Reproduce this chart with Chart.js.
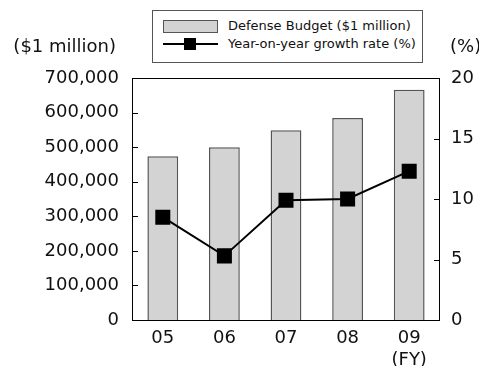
<!DOCTYPE html>
<html>
<head>
<meta charset="utf-8">
<script src="https://cdn.jsdelivr.net/npm/chart.js@4/dist/chart.umd.min.js"></script>
<style>
  body { margin: 0; background: #fff; }
  #wrap { position: relative; width: 479px; height: 366px; }
  #legend {
    position: absolute; left: 152px; top: 10px; width: 271px; height: 53px;
    border: 1px solid #555; box-sizing: border-box; background: #fff;
    font-family: "DejaVu Sans", sans-serif; font-size: 13px; color: #111;
  }
  .item { position: absolute; left: 10px; height: 14px; line-height: 14px; white-space: nowrap; }
  .item span.txt { position: absolute; left: 65px; top: 0; }
  .swBar { position: absolute; left: 0; top: 1px; width: 53px; height: 11px; background: #d3d3d3; border: 1px solid #555; }
  .swLine { position: absolute; left: 0; top: 6px; width: 55px; height: 2px; background: #000; }
  .swLine i { position: absolute; left: 21px; top: -5px; width: 12px; height: 12px; background: #000; }
</style>
</head>
<body>
<div id="wrap">
  <canvas id="myChart" width="479" height="366"></canvas>
  <div id="legend">
    <div class="item" style="top:8px"><div class="swBar"></div><span class="txt">Defense Budget ($1 million)</span></div>
    <div class="item" style="top:26px"><div class="swLine"><i></i></div><span class="txt">Year-on-year growth rate (%)</span></div>
  </div>
</div>
<script>
const YEARS = ['05', '06', '07', '08', ['09', '(FY)']];
const BUDGET = [474000, 500000, 549000, 584000, 666000];
const GROWTH = [8.5, 5.3, 9.9, 10.0, 12.3];
const LEFT_TITLE = '($1 million)';
const RIGHT_TITLE = '(%)';

const FONT = "'DejaVu Sans', sans-serif";

// box round the plot, inward tick marks, axis titles
const frame = {
  id: 'frame',
  afterDraw(chart) {
    const c = chart.ctx, a = chart.chartArea;
    const yl = chart.scales.y, yr = chart.scales.y2;
    c.save();
    c.strokeStyle = '#000';
    c.lineWidth = 1;
    c.strokeRect(a.left + 0.5, a.top + 0.5, a.right - a.left - 1, a.bottom - a.top);
    c.beginPath();
    yl.ticks.forEach(t => {
      const py = Math.round(yl.getPixelForValue(t.value)) + 0.5;
      c.moveTo(a.left, py); c.lineTo(a.left + 6, py);
    });
    yr.ticks.forEach(t => {
      const py = Math.round(yr.getPixelForValue(t.value)) + 0.5;
      c.moveTo(a.right - 6, py); c.lineTo(a.right, py);
    });
    c.stroke();
    c.fillStyle = '#111';
    c.font = '18px ' + FONT;
    c.textBaseline = 'middle';
    c.textAlign = 'right';
    c.fillText(LEFT_TITLE, a.left - 16, a.top - 31);
    c.textAlign = 'left';
    c.fillText(RIGHT_TITLE, a.right + 10, a.top - 31);
    c.restore();
  }
};

let ctx = document.getElementById('myChart').getContext('2d');
let chart = new Chart(ctx, {
  type: 'bar',
  data: {
    labels: YEARS,
    datasets: [{
      type: 'line',
      label: 'Year-on-year growth rate (%)',
      data: GROWTH,
      yAxisID: 'y2',
      borderColor: '#000',
      borderWidth: 2,
      pointStyle: 'rect',
      pointRadius: 9.2,
      pointBackgroundColor: '#000',
      pointBorderColor: '#000',
      tension: 0,
      order: 0
    }, {
      label: 'Defense Budget ($1 million)',
      data: BUDGET,
      yAxisID: 'y',
      backgroundColor: '#d3d3d3',
      borderColor: '#555',
      borderWidth: 1.5,
      barPercentage: 0.5,
      categoryPercentage: 1,
      order: 1
    }]
  },
  options: {
    responsive: false,
    animation: false,
    layout: { padding: { top: 78, left: 0, right: 0, bottom: 0 } },
    plugins: { legend: { display: false }, tooltip: { enabled: false } },
    scales: {
      x: {
        offset: true,
        grid: { display: false, drawTicks: false },
        border: { display: false },
        ticks: { color: '#111', font: { family: FONT, size: 18 }, padding: 8, maxRotation: 0 },
        afterFit(s) { s.height = 46; }
      },
      y: {
        position: 'left',
        min: 0, max: 700000,
        grid: { display: false, drawTicks: false },
        border: { display: false },
        ticks: {
          stepSize: 100000,
          color: '#111',
          font: { family: FONT, size: 18 },
          padding: 13,
          callback: v => v.toLocaleString('en-US')
        },
        afterFit(s) { s.width = 132; }
      },
      y2: {
        position: 'right',
        min: 0, max: 20,
        grid: { display: false, drawTicks: false },
        border: { display: false },
        ticks: { stepSize: 5, color: '#111', font: { family: FONT, size: 18 }, padding: 11 },
        afterFit(s) { s.width = 39; }
      }
    }
  },
  plugins: [frame]
});
</script>
</body>
</html>
